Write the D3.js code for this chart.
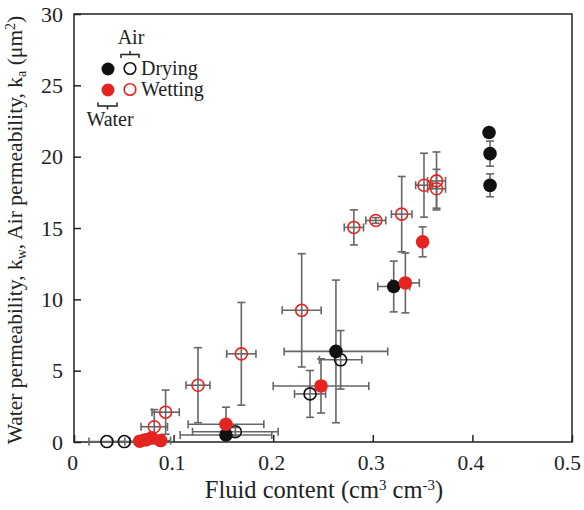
<!DOCTYPE html>
<html><head><meta charset="utf-8">
<script src="https://cdn.jsdelivr.net/npm/d3@7"></script>
<style>body{margin:0;background:#fff}svg text{font-family:"Liberation Serif","Times New Roman",serif;fill:#222}</style>
</head><body><svg id="c" width="584" height="510"></svg>
<script>
// [x, y, xErr, yErr]
const airDrying = [
  [0.033, 0.03, 0.018, 0],
  [0.0505, 0.03, 0.012, 0],
  [0.162, 0.72, 0.043, 0.3],
  [0.237, 3.37, 0.0156, 1.64],
  [0.2677, 5.76, 0.0213, 2.05]
];
const waterDrying = [
  [0.1526, 0.49, 0.046, 0.3],
  [0.263, 6.35, 0.052, 5.0],
  [0.321, 10.9, 0.016, 1.78],
  [0.4167, 21.69, 0, 0],
  [0.4177, 20.21, 0, 0.88],
  [0.4177, 17.99, 0, 0.8]
];
const waterWetting = [
  [0.066, 0.05, 0.01, 0],
  [0.072, 0.15, 0.01, 0],
  [0.078, 0.3, 0.01, 0],
  [0.087, 0.1, 0.01, 0],
  [0.1526, 1.24, 0.038, 1.2],
  [0.248, 3.93, 0.048, 1.9],
  [0.3327, 11.15, 0.014, 2.1],
  [0.350, 14.03, 0, 1.05]
];
const airWetting = [
  [0.0806, 1.07, 0.0133, 1.2],
  [0.092, 2.09, 0.0137, 1.55],
  [0.1245, 3.98, 0.012, 2.63],
  [0.168, 6.18, 0.0147, 3.6],
  [0.2286, 9.23, 0.0196, 3.97],
  [0.281, 15.04, 0.0097, 1.23],
  [0.303, 15.53, 0.01, 0.2],
  [0.329, 15.97, 0.0103, 2.64],
  [0.3514, 18.0, 0.0084, 2.24],
  [0.364, 18.3, 0.009, 2.03],
  [0.364, 17.75, 0.009, 1.36]
];
const xTicks = [0, 0.1, 0.2, 0.3, 0.4, 0.5];
const xTickLabels = ["0", "0.1", "0.2", "0.3", "0.4", "0.5"];
const yTicks = [0, 5, 10, 15, 20, 25, 30];

const RED = "#e52421", BAR = "#666";
const svg = d3.select("#c");
const L = 74, R = 572, T = 14, B = 442;
const x = d3.scaleLinear().domain([0, 0.5]).range([L, R]);
const y = d3.scaleLinear().domain([0, 30]).range([B, T]);

// frame
svg.append("rect").attr("x", L).attr("y", T).attr("width", R - L).attr("height", B - T)
  .attr("fill", "none").attr("stroke", "#222").attr("stroke-width", 1.5);

const gx = svg.append("g").attr("transform", `translate(0,${B})`)
  .call(d3.axisBottom(x).tickValues(xTicks).tickSizeInner(-7).tickSizeOuter(0)
    .tickFormat((d, i) => xTickLabels[i]).tickPadding(13));
const gy = svg.append("g").attr("transform", `translate(${L},0)`)
  .call(d3.axisLeft(y).tickValues(yTicks).tickSizeInner(-7).tickSizeOuter(0).tickPadding(11));
[gx, gy].forEach(g => {
  g.select(".domain").remove();
  g.selectAll(".tick line").attr("stroke", "#222").attr("stroke-width", 1.5);
  g.selectAll(".tick text").style("font-size", "22px").attr("fill", "#222");
});
gx.selectAll(".tick text").style("font-size", "21.5px").attr("dx", (d, i) => i === xTicks.length - 1 ? -5 : -2);

// error bars
const cap = 4;
function drawBars(data) {
  const g = svg.append("g").attr("stroke", BAR).attr("stroke-width", 1.6).attr("fill", "none");
  data.forEach(d => {
    const [vx, vy, ex, ey] = d;
    const cx = x(vx), cy = y(vy);
    if (ex > 0) {
      const x0 = x(vx - ex), x1 = x(vx + ex);
      g.append("line").attr("x1", x0).attr("x2", x1).attr("y1", cy).attr("y2", cy);
      g.append("line").attr("x1", x0).attr("x2", x0).attr("y1", cy - cap).attr("y2", cy + cap);
      g.append("line").attr("x1", x1).attr("x2", x1).attr("y1", cy - cap).attr("y2", cy + cap);
    }
    if (ey > 0) {
      const y0 = y(vy - ey), y1 = y(vy + ey);
      g.append("line").attr("x1", cx).attr("x2", cx).attr("y1", y0).attr("y2", y1);
      g.append("line").attr("x1", cx - cap).attr("x2", cx + cap).attr("y1", y0).attr("y2", y0);
      g.append("line").attr("x1", cx - cap).attr("x2", cx + cap).attr("y1", y1).attr("y2", y1);
    }
  });
}
[airDrying, waterDrying, waterWetting, airWetting].forEach(drawBars);

function drawPts(data, filled, color) {
  svg.append("g").selectAll("circle").data(data).join("circle")
    .attr("cx", d => x(d[0])).attr("cy", d => y(d[1]))
    .attr("r", filled ? 6.8 : 6)
    .attr("fill", filled ? color : "none")
    .attr("stroke", color).attr("stroke-width", filled ? 0 : 1.6);
}
drawPts(airDrying, false, "#111");
drawPts(airWetting, false, RED);
drawPts(waterDrying, true, "#111");
drawPts(waterWetting, true, RED);

// legend
const lg = svg.append("g");
lg.append("circle").attr("cx", 108).attr("cy", 69).attr("r", 6.5).attr("fill", "#111");
lg.append("circle").attr("cx", 130).attr("cy", 68.5).attr("r", 5.8).attr("fill", "none").attr("stroke", "#111").attr("stroke-width", 1.6);
lg.append("circle").attr("cx", 108).attr("cy", 90).attr("r", 6.5).attr("fill", RED);
lg.append("circle").attr("cx", 130).attr("cy", 89.5).attr("r", 5.8).attr("fill", "none").attr("stroke", RED).attr("stroke-width", 1.6);
lg.append("text").attr("x", 141).attr("y", 75).style("font-size", "20px").text("Drying");
lg.append("text").attr("x", 141).attr("y", 96).style("font-size", "20px").text("Wetting");
lg.append("text").attr("x", 131).attr("y", 44).attr("text-anchor", "middle").style("font-size", "20px").text("Air");
lg.append("text").attr("x", 110).attr("y", 126).attr("text-anchor", "middle").style("font-size", "20px").text("Water");
lg.append("path").attr("d", "M121,58 V54.5 H139 V58 M130,54.5 V51").attr("fill", "none").attr("stroke", "#222").attr("stroke-width", 1.5);
lg.append("path").attr("d", "M98,102.5 V106 H117 V102.5 M107.5,106 V109.5").attr("fill", "none").attr("stroke", "#222").attr("stroke-width", 1.5);

// axis titles
const xt = svg.append("text").attr("x", 324).attr("y", 498).attr("text-anchor", "middle")
  .style("font-size", "24.5px");
xt.append("tspan").text("Fluid content (cm");
xt.append("tspan").attr("dy", -8).style("font-size", "15px").text("3");
xt.append("tspan").attr("dy", 8).text(" cm");
xt.append("tspan").attr("dy", -8).style("font-size", "15px").text("-3");
xt.append("tspan").attr("dy", 8).text(")");
const yt = svg.append("text").attr("transform", `translate(22,${(T + B) / 2 + 2}) rotate(-90)`)
  .attr("text-anchor", "middle").style("font-size", "21.5px");
yt.append("tspan").text("Water permeability, k");
yt.append("tspan").attr("dy", 4).style("font-size", "14px").text("w");
yt.append("tspan").attr("dy", -4).text(", Air permeability, k");
yt.append("tspan").attr("dy", 4).style("font-size", "14px").text("a");
yt.append("tspan").attr("dy", -4).text(" (μm");
yt.append("tspan").attr("dy", -7).style("font-size", "14px").text("2");
yt.append("tspan").attr("dy", 7).text(")");
</script></body></html>
